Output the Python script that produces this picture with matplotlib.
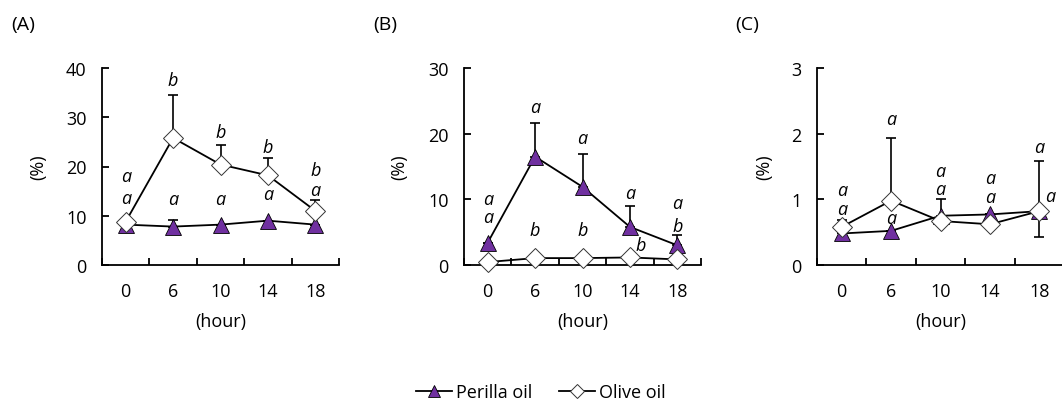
import matplotlib
matplotlib.use("Agg")
import matplotlib.pyplot as plt
import numpy as np
from matplotlib.lines import Line2D

plt.rcParams['font.family'] = ['Open Sans', 'DejaVu Sans']

hours = ["0", "6", "10", "14", "18"]

# Panel A
a_perilla = [8.2, 7.8, 8.2, 9.0, 8.2]
a_perilla_err = [0.0, 1.4, 0.0, 0.0, 0.0]
a_olive = [8.8, 25.8, 20.4, 18.2, 11.0]
a_olive_err = [0.0, 8.8, 4.0, 3.5, 2.2]
a_letters_top = ["a", "b", "b", "b", "b"]
a_letters_top_y = [18.0, 37.5, 27.0, 24.0, 19.3]
a_letters_bot = ["a", "a", "a", "a", "a"]
a_letters_bot_y = [13.6, 13.4, 13.4, 14.4, 15.2]

# Panel B
b_perilla = [3.4, 16.5, 11.9, 5.8, 3.0]
b_perilla_err = [0.0, 5.1, 5.0, 3.25, 1.6]
b_olive = [0.45, 1.05, 1.05, 1.15, 0.85]
b_olive_err = [0.0, 0.0, 0.0, 0.0, 0.0]
b_letters_top = ["a", "a", "a", "a", "a"]
b_letters_top_y = [10.0, 24.0, 19.3, 10.9, 9.4]
b_letters_bot = ["a", "b", "b", "b", "b"]
b_letters_bot_y = [7.3, 5.3, 5.3, 3.0, 6.0]
b_letters_bot_dx = [0.0, 0.0, 0.0, 0.22, 0.0]

# Panel C
c_perilla = [0.48, 0.52, 0.75, 0.77, 0.82]
c_perilla_err_lo = [0.0, 0.0, 0.0, 0.0, 0.39]
c_perilla_err_hi = [0.0, 0.0, 0.25, 0.0, 0.0]
c_olive = [0.58, 0.98, 0.67, 0.62, 0.82]
c_olive_err = [0.11, 0.96, 0.0, 0.0, 0.77]
c_letters_top = ["a", "a", "a", "a", "a"]
c_letters_top_y = [1.14, 2.22, 1.43, 1.33, 1.8]
c_letters_bot = ["a", "a", "a", "a", "a"]
c_letters_bot_y = [0.86, 0.72, 1.15, 1.03, 1.05]
c_letters_bot_dx = [0.0, 0.0, 0.0, 0.0, 0.22]

purple = "#7030A0"
W, H = 1062, 406
fig = plt.figure(figsize=(W / 100, H / 100), dpi=100)

panels = [
    dict(rect=[102 / W, 1 - 266 / H, 237 / W, 197 / H], ymax=40, step=10,
         per=a_perilla, per_lo=[0] * 5, per_hi=a_perilla_err,
         oli=a_olive, oli_lo=[0] * 5, oli_hi=a_olive_err,
         lt=a_letters_top, lty=a_letters_top_y, lb=a_letters_bot, lby=a_letters_bot_y,
         lbdx=[0] * 5, tag="(A)", tagx=11, ylx=-0.232),
    dict(rect=[464 / W, 1 - 266 / H, 237 / W, 197 / H], ymax=30, step=10,
         per=b_perilla, per_lo=[0] * 5, per_hi=b_perilla_err,
         oli=b_olive, oli_lo=[0] * 5, oli_hi=b_olive_err,
         lt=b_letters_top, lty=b_letters_top_y, lb=b_letters_bot, lby=b_letters_bot_y,
         lbdx=b_letters_bot_dx, tag="(B)", tagx=373, ylx=-0.236),
    dict(rect=[817 / W, 1 - 266 / H, 247 / W, 197 / H], ymax=3, step=1,
         per=c_perilla, per_lo=c_perilla_err_lo, per_hi=c_perilla_err_hi,
         oli=c_olive, oli_lo=[0] * 5, oli_hi=c_olive_err,
         lt=c_letters_top, lty=c_letters_top_y, lb=c_letters_bot, lby=c_letters_bot_y,
         lbdx=c_letters_bot_dx, tag="(C)", tagx=735, ylx=-0.178),
]

fs = 13
x = np.arange(len(hours))
for p in panels:
    ax = fig.add_axes(p["rect"])
    ax.errorbar(x, p["per"], yerr=[p["per_lo"], p["per_hi"]], fmt="none",
                ecolor="black", elinewidth=1.2, capsize=3.5, capthick=1.2, zorder=2)
    ax.errorbar(x, p["oli"], yerr=[p["oli_lo"], p["oli_hi"]], fmt="none",
                ecolor="black", elinewidth=1.2, capsize=3.5, capthick=1.2, zorder=2)
    ax.plot(x, p["per"], color="black", lw=1.3, marker="^", markersize=12,
            markerfacecolor=purple, markeredgecolor="black", markeredgewidth=0.6,
            zorder=3, clip_on=False)
    ax.plot(x, p["oli"], color="black", lw=1.3, marker="D", markersize=10.5,
            markerfacecolor="white", markeredgecolor="#333333", markeredgewidth=0.7,
            zorder=4, clip_on=False)
    for i in range(len(hours)):
        ax.text(x[i], p["lty"][i], p["lt"][i], style="italic", fontsize=fs,
                ha="center", va="center", zorder=5)
        ax.text(x[i] + p["lbdx"][i], p["lby"][i], p["lb"][i], style="italic",
                fontsize=fs, ha="center", va="center", zorder=5)
    ax.set_xlim(-0.5, len(hours) - 0.5)
    ax.set_ylim(0, p["ymax"])
    ax.set_yticks(np.arange(0, p["ymax"] + p["step"] / 2, p["step"]))
    ax.set_xticks(x)
    ax.set_xticklabels(hours)
    ax.set_xticks(np.arange(-0.5, len(hours), 1.0), minor=True)
    ax.tick_params(axis="x", which="major", length=0, pad=12, labelsize=fs)
    ax.tick_params(axis="x", which="minor", direction="in", length=5, width=1.3)
    ax.tick_params(axis="y", direction="in", length=5, width=1.3, pad=11, labelsize=fs)
    for s in ["top", "right"]:
        ax.spines[s].set_visible(False)
    for s in ["left", "bottom"]:
        ax.spines[s].set_linewidth(1.3)
    ax.set_ylabel("(%)", fontsize=fs)
    ax.yaxis.set_label_coords(p["ylx"], 0.5)
    ax.set_xlabel("(hour)", fontsize=fs, va="center")
    ax.xaxis.set_label_coords(0.5, -(322 - 266) / 197)
    fig.text(p["tagx"] / W, 1 - 25 / H, p["tag"], fontsize=14, ha="left", va="center")

handles = [
    Line2D([], [], color="black", lw=1.3, marker="^", markersize=9,
           markerfacecolor=purple, markeredgecolor="black", markeredgewidth=0.6),
    Line2D([], [], color="black", lw=1.3, marker="D", markersize=7,
           markerfacecolor="white", markeredgecolor="#333333", markeredgewidth=0.7),
]
fig.legend(handles, ["Perilla oil", "Olive oil"], loc="center", ncol=2,
           bbox_to_anchor=(541 / W, 1 - 393 / H), frameon=False, fontsize=fs,
           handlelength=2.0, handletextpad=0.2, columnspacing=1.5)

fig.savefig("out.png", dpi=100)
